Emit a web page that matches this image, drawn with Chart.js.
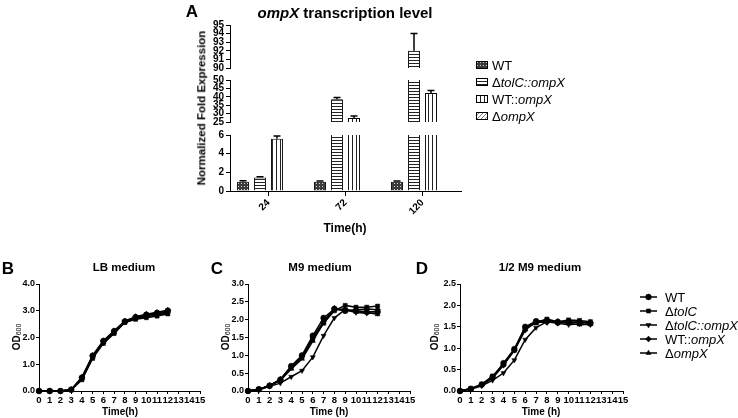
<!DOCTYPE html>
<html><head><meta charset="utf-8">
<script src="https://cdn.jsdelivr.net/npm/chart.js@4.4.1/dist/chart.umd.min.js"></script>
<style>
body{margin:0;width:738px;height:418px;background:#fff;position:relative;overflow:hidden;font-family:Arial,"Liberation Sans",Helvetica,sans-serif;color:#000;}
canvas{position:absolute;}
.t{position:absolute;white-space:nowrap;line-height:1;transform:translate(-50%,-50%);}
.r{transform:translate(-50%,-50%) rotate(-90deg);}
.b{font-weight:bold;}
.lg{position:absolute;white-space:nowrap;line-height:1;font-size:13px;transform:translateY(-50%);}
sub{font-size:7px;font-weight:normal;vertical-align:-1px;}
</style></head><body>
<script>
// ---------- Panel A data ----------
const barCategories = ['24', '72', '120'];
const barSeriesNames = ['WT', 'ΔtolC::ompX', 'WT::ompX', 'ΔompX'];
const wtExpr = [1.0, 1.0, 1.0];
const wtExprErr = [0.1, 0.06, 0.06];
const tolcOmpxExpr = [1.45, 38.6, 92.0];
const tolcOmpxErr = [0.08, 1.0, 2.0];
const wtOmpxExpr = [5.6, 27.4, 42.2];
const wtOmpxErr = [0.3, 1.2, 1.6];
const dOmpxExpr = [0, 0, 0];
const dOmpxErr = [0, 0, 0];
const segBottomRange = [0, 6, 2];
const segMiddleRange = [25, 50, 5];
const segTopRange = [90, 95, 1];

// ---------- Growth data ----------
const hours = [0,1,2,3,4,5,6,7,8,9,10,11,12];
const growthNames = ['WT', 'ΔtolC', 'ΔtolC::ompX', 'WT::ompX', 'ΔompX'];
const lbWT        = [0,0,0,0.05,0.50,1.32,1.87,2.24,2.60,2.76,2.85,2.92,3.00];
const lbTolC      = [0,0,0,0.04,0.42,1.22,1.78,2.15,2.56,2.68,2.74,2.80,2.88];
const lbTolCOmpX  = [0,0,0,0.05,0.45,1.25,1.80,2.18,2.58,2.72,2.78,2.84,2.92];
const lbWTOmpX    = [0,0,0,0.06,0.52,1.33,1.88,2.25,2.62,2.78,2.87,2.94,3.02];
const lbOmpX      = [0,0,0,0.05,0.47,1.28,1.83,2.20,2.60,2.74,2.82,2.88,2.96];
const m9WT        = [0,0.05,0.15,0.32,0.70,1.00,1.55,2.05,2.30,2.25,2.25,2.22,2.22];
const m9TolC      = [0,0.04,0.14,0.30,0.65,0.95,1.45,1.90,2.25,2.40,2.35,2.35,2.38];
const m9TolCOmpX  = [0,0.03,0.13,0.22,0.40,0.57,0.95,1.55,2.05,2.28,2.20,2.18,2.18];
const m9WTOmpX    = [0,0.05,0.15,0.33,0.68,0.98,1.50,1.95,2.32,2.25,2.28,2.30,2.28];
const m9OmpX      = [0,0.04,0.16,0.30,0.62,0.90,1.40,1.92,2.28,2.30,2.22,2.20,2.15];
const hm9WT       = [0,0.05,0.15,0.33,0.65,0.98,1.50,1.63,1.65,1.60,1.62,1.60,1.58];
const hm9TolC     = [0,0.06,0.16,0.35,0.62,0.95,1.45,1.60,1.68,1.62,1.66,1.65,1.62];
const hm9TolCOmpX = [0,0.04,0.12,0.25,0.42,0.72,1.20,1.48,1.62,1.58,1.55,1.57,1.55];
const hm9WTOmpX   = [0,0.05,0.14,0.30,0.60,0.95,1.42,1.62,1.60,1.63,1.60,1.62,1.60];
const hm9OmpX     = [0,0.05,0.15,0.32,0.64,0.97,1.48,1.58,1.64,1.60,1.58,1.55,1.56];

Chart.defaults.font.family = 'Arial, "Liberation Sans", Helvetica, sans-serif';
Chart.defaults.color = '#000';

function addCanvas(x, y, w, h) {
  const c = document.createElement('canvas');
  c.width = w; c.height = h;
  c.style.left = x + 'px'; c.style.top = y + 'px';
  c.style.width = w + 'px'; c.style.height = h + 'px';
  document.body.appendChild(c);
  return c;
}
function addText(html, x, y, size, cls) {
  const d = document.createElement('div');
  d.className = 't ' + (cls || '');
  d.style.left = x + 'px'; d.style.top = y + 'px'; d.style.fontSize = size + 'px';
  d.innerHTML = html;
  document.body.appendChild(d);
  return d;
}

// ---------- patterns ----------
function tile(kind) {
  const c = document.createElement('canvas');
  const g = c.getContext('2d');
  if (kind === 'check') {
    c.width = 3; c.height = 3;
    g.fillStyle = '#3a3a3a'; g.fillRect(0, 0, 3, 3);
    g.fillStyle = '#d8d8d8'; g.fillRect(1, 1, 1, 1);
  } else if (kind === 'hline') {
    c.width = 1; c.height = 3;
    g.fillStyle = '#fff'; g.fillRect(0, 0, 1, 3);
    g.fillStyle = '#222'; g.fillRect(0, 0, 1, 1);
  } else if (kind === 'vline') {
    c.width = 4; c.height = 1;
    g.fillStyle = '#fff'; g.fillRect(0, 0, 4, 1);
    g.fillStyle = '#222'; g.fillRect(0, 0, 1, 1);
  } else {
    c.width = 4; c.height = 4;
    g.fillStyle = '#fff'; g.fillRect(0, 0, 4, 4);
    g.fillStyle = '#777';
    for (let i = 0; i < 4; i++) g.fillRect(3 - i, i, 1, 1);
  }
  return c;
}
const tiles = [tile('check'), tile('hline'), tile('vline'), tile('diag')];
const barValues = [wtExpr, tolcOmpxExpr, wtOmpxExpr, dOmpxExpr];
const barErrors = [wtExprErr, tolcOmpxErr, wtOmpxErr, dOmpxErr];

function barDatasets() {
  return barSeriesNames.map((n, i) => ({
    label: n,
    data: barValues[i],
    errors: barErrors[i],
    backgroundColor: (ctx) => ctx.chart.ctx.createPattern(tiles[i], 'repeat'),
    borderColor: '#000',
    borderWidth: 1,
    clip: 0
  }));
}

const errPlugin = {
  id: 'errbars',
  afterDatasetsDraw(chart) {
    const ctx = chart.ctx, a = chart.chartArea, ys = chart.scales.y;
    ctx.save();
    ctx.beginPath(); ctx.rect(a.left, a.top - 1, a.right - a.left, a.bottom - a.top + 1); ctx.clip();
    ctx.strokeStyle = '#000'; ctx.lineWidth = 1.5;
    chart.data.datasets.forEach((ds, i) => {
      const meta = chart.getDatasetMeta(i);
      meta.data.forEach((bar, j) => {
        const e = ds.errors[j]; if (!e) return;
        const v = ds.data[j];
        const y0 = ys.getPixelForValue(v), y1 = ys.getPixelForValue(v + e);
        ctx.beginPath();
        ctx.moveTo(bar.x, y0); ctx.lineTo(bar.x, y1);
        ctx.moveTo(bar.x - 3.5, y1); ctx.lineTo(bar.x + 3.5, y1);
        ctx.stroke();
      });
    });
    ctx.restore();
  }
};

function barSegment(cv, area, range, showX) {
  const el = addCanvas(cv.x, cv.y, cv.w, cv.h);
  new Chart(el, {
    type: 'bar',
    data: { labels: barCategories, datasets: barDatasets() },
    options: {
      responsive: false, animation: false, devicePixelRatio: 1, events: [],
      layout: { padding: { left: 0, top: area.t - cv.y, right: cv.x + cv.w - area.r, bottom: showX ? 0 : cv.y + cv.h - area.b } },
      plugins: { legend: { display: false }, tooltip: { enabled: false } },
      datasets: { bar: { categoryPercentage: 0.883, barPercentage: 0.7 } },
      scales: {
        x: {
          display: showX,
          grid: { offset: false, drawOnChartArea: false, tickLength: 5, color: '#000', lineWidth: 1 },
          border: { color: '#000', width: 1 },
          ticks: { font: { size: 10, weight: 'bold' }, minRotation: 45, maxRotation: 45, padding: 1 },
          afterFit: (s) => { if (showX) { s.height = cv.y + cv.h - area.b; } s.paddingLeft = 0; s.paddingRight = 0; }
        },
        y: {
          min: range[0], max: range[1],
          ticks: { stepSize: range[2], autoSkip: false, font: { size: 10, weight: 'bold' }, padding: 2 },
          grid: { drawOnChartArea: false, tickLength: 4, color: '#000', lineWidth: 1 },
          border: { color: '#000', width: 1 },
          afterFit: (s) => { s.width = area.l - cv.x; s.paddingTop = 0; s.paddingBottom = 0; }
        }
      }
    },
    plugins: [errPlugin]
  });
}

barSegment({ x: 180, y: 125, w: 290, h: 110 }, { l: 230, t: 135, r: 461, b: 191 }, segBottomRange, true);
barSegment({ x: 180, y: 70, w: 290, h: 62 }, { l: 230, t: 80, r: 461, b: 122 }, segMiddleRange, false);
barSegment({ x: 180, y: 15, w: 290, h: 63 }, { l: 230, t: 25, r: 461, b: 68 }, segTopRange, false);

// Panel A texts
addText('A', 192, 11, 17, 'b');
addText('<i>ompX</i> transcription level', 345, 12, 15, 'b');
addText('Normalized Fold Expression', 202, 108, 11.5, 'b r');
addText('Time(h)', 345, 228, 12, 'b');

// Panel A legend
const legAHtml = ['WT', 'Δ<i>tolC::ompX</i>', 'WT::<i>ompX</i>', 'Δ<i>ompX</i>'];
const legAY = [65, 82, 99, 116];
legAHtml.forEach((h, i) => {
  const c = addCanvas(476, legAY[i] - 4, 12, 8);
  const g = c.getContext('2d');
  g.fillStyle = g.createPattern(tiles[i], 'repeat');
  g.fillRect(0.5, 0.5, 11, 7);
  g.strokeStyle = '#000'; g.lineWidth = 1;
  g.strokeRect(0.5, 0.5, 11, 7);
  const d = document.createElement('div');
  d.className = 'lg';
  d.style.left = '492px'; d.style.top = legAY[i] + 'px';
  d.innerHTML = h;
  document.body.appendChild(d);
});

// ---------- growth panels ----------
const pointStyles = ['circle', 'rect', 'triangle', 'rectRot', 'triangle'];
const pointRots = [0, 0, 180, 0, 0];

function growth(cv, area, yMax, step, series) {
  const el = addCanvas(cv.x, cv.y, cv.w, cv.h);
  new Chart(el, {
    type: 'line',
    data: {
      datasets: series.map((vals, i) => ({
        label: growthNames[i],
        data: hours.map((h, k) => ({ x: h, y: vals[k] })),
        borderColor: '#000', backgroundColor: '#000', borderWidth: 1.5,
        pointStyle: pointStyles[i], rotation: pointRots[i], pointRadius: 2.9, pointBorderWidth: 0.5,
        clip: false, tension: 0
      }))
    },
    options: {
      responsive: false, animation: false, devicePixelRatio: 1, events: [],
      layout: { padding: { left: 0, top: area.t - cv.y, right: cv.x + cv.w - area.r, bottom: 0 } },
      plugins: { legend: { display: false }, tooltip: { enabled: false } },
      scales: {
        x: {
          type: 'linear', min: 0, max: 15,
          ticks: { stepSize: 1, autoSkip: false, maxRotation: 0, font: { size: 9.5, weight: 'bold' }, padding: 1 },
          grid: { drawOnChartArea: false, tickLength: 3, color: '#000' },
          border: { color: '#000', width: 1 },
          afterFit: (s) => { s.height = cv.y + cv.h - area.b; s.paddingLeft = 0; s.paddingRight = 0; }
        },
        y: {
          min: 0, max: yMax,
          ticks: { stepSize: step, autoSkip: false, font: { size: 9, weight: 'bold' }, padding: 1, callback: (v) => Number(v).toFixed(1) },
          grid: { drawOnChartArea: false, tickLength: 3, color: '#000' },
          border: { color: '#000', width: 1 },
          afterFit: (s) => { s.width = area.l - cv.x; s.paddingTop = 0; s.paddingBottom = 0; }
        }
      }
    }
  });
}

growth({ x: 0, y: 274, w: 215, h: 144 }, { l: 39, t: 284, r: 200, b: 391 }, 4, 1,
  [lbWT, lbTolC, lbTolCOmpX, lbWTOmpX, lbOmpX]);
growth({ x: 215, y: 274, w: 210, h: 144 }, { l: 248, t: 284, r: 410, b: 391 }, 3, 0.5,
  [m9WT, m9TolC, m9TolCOmpX, m9WTOmpX, m9OmpX]);
growth({ x: 425, y: 274, w: 213, h: 144 }, { l: 460, t: 284, r: 623, b: 391 }, 2.5, 0.5,
  [hm9WT, hm9TolC, hm9TolCOmpX, hm9WTOmpX, hm9OmpX]);

addText('B', 8, 268, 17, 'b');
addText('C', 217, 268, 17, 'b');
addText('D', 422, 268, 17, 'b');
addText('LB medium', 124, 268, 11.5, 'b');
addText('M9 medium', 320, 268, 11.5, 'b');
addText('1/2 M9 medium', 540, 268, 11.5, 'b');
addText('OD<sub>600</sub>', 17, 337, 10, 'b r');
addText('OD<sub>600</sub>', 226, 337, 10, 'b r');
addText('OD<sub>600</sub>', 435, 337, 10, 'b r');
addText('Time(h)', 120, 412, 10, 'b');
addText('Time (h)', 329, 412, 10, 'b');
addText('Time (h)', 541, 412, 10, 'b');

// growth legend
const legGHtml = ['WT', 'Δ<i>tolC</i>', 'Δ<i>tolC::ompX</i>', 'WT::<i>ompX</i>', 'Δ<i>ompX</i>'];
const legGY = [297, 311, 325, 339, 353];
const lc = addCanvas(636, 288, 26, 74);
const lg = lc.getContext('2d');
lg.strokeStyle = '#000'; lg.fillStyle = '#000'; lg.lineWidth = 1.5;
legGHtml.forEach((h, i) => {
  const yy = legGY[i] - 288;
  lg.beginPath(); lg.moveTo(4, yy); lg.lineTo(21, yy); lg.stroke();
  if (Chart.helpers && Chart.helpers.drawPoint) {
    lg.lineWidth = 0.5;
    Chart.helpers.drawPoint(lg, { pointStyle: pointStyles[i], rotation: pointRots[i], radius: 2.9, borderWidth: 0.5 }, 12.5, yy);
    lg.lineWidth = 1.5;
  }
  const d = document.createElement('div');
  d.className = 'lg';
  d.style.left = '665px'; d.style.top = legGY[i] + 'px';
  d.innerHTML = h;
  document.body.appendChild(d);
});
</script>
</body></html>
